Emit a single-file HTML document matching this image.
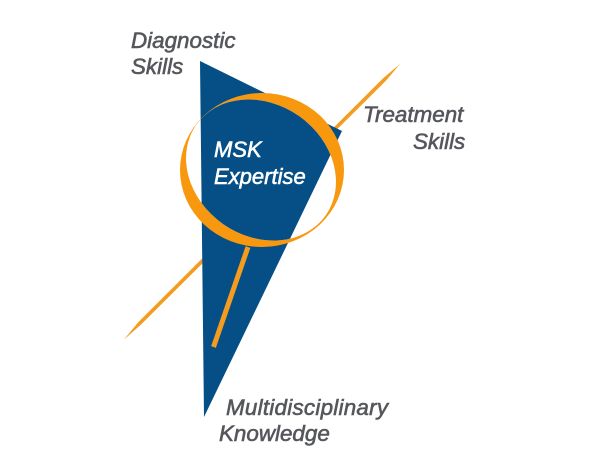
<!DOCTYPE html>
<html><head><meta charset="utf-8"><style>
html,body{margin:0;padding:0;background:#fff}
svg{display:block}
text{font-family:"Liberation Sans",sans-serif;font-style:italic;font-size:22.4px;fill:#55575c;stroke:#55575c;stroke-width:.6}
text.w{fill:#fff;stroke:#fff;font-size:22px;stroke-width:.55}
</style></head><body>
<svg width="600" height="451" viewBox="0 0 600 451" xmlns="http://www.w3.org/2000/svg">
<defs>
<clipPath id="inner"><ellipse cx="261" cy="170" rx="79" ry="66" transform="rotate(35 261 170)"/></clipPath>
</defs>
<rect width="600" height="451" fill="#fff"/>
<polygon points="400,64 386.3,80.3 141.3,324.3 124,339.5 138.7,321.7 383.7,77.7" fill="#f39c1f"/>
<polygon points="200,61 342,131 204,417" fill="#064f86"/>
<line x1="248" y1="247" x2="213.5" y2="347" stroke="#f39c1f" stroke-width="5"/>
<ellipse cx="262" cy="170" rx="82" ry="77" fill="#f8980f"/>
<ellipse cx="261" cy="170" rx="79" ry="66" transform="rotate(35 261 170)" fill="#fff"/>
<polygon points="200,61 342,131 204,417" fill="#064f86" clip-path="url(#inner)"/>
<text x="131" y="48">Diagnostic</text>
<text x="131" y="74">Skills</text>
<text x="363" y="122">Treatment</text>
<text x="413" y="149">Skills</text>
<text x="226" y="415" letter-spacing=".25">Multidisciplinary</text>
<text x="219" y="441">Knowledge</text>
<text class="w" x="214" y="157">MSK</text>
<text class="w" x="214" y="184">Expertise</text>
</svg>
</body></html>
